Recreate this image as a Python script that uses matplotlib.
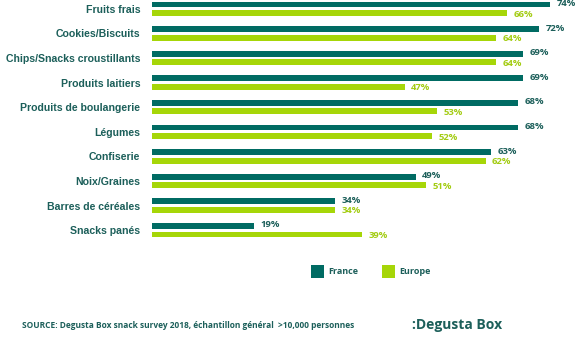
import matplotlib
matplotlib.use('Agg')
import matplotlib.pyplot as plt
import numpy as np

categories = ['Fruits frais', 'Cookies/Biscuits', 'Chips/Snacks croustillants',
              'Produits laitiers', 'Produits de boulangerie', 'Légumes',
              'Confiserie', 'Noix/Graines', 'Barres de céréales', 'Snacks panés']
france = [74, 72, 69, 69, 68, 68, 63, 49, 34, 19]
europe = [66, 64, 64, 47, 53, 52, 62, 51, 34, 39]
series_names = ['France', 'Europe']

teal = '#006b63'
lime = '#a6d608'
text_teal = '#1c5f5a'

fig = plt.figure(figsize=(5.85, 3.4), dpi=100)
ax = fig.add_axes([152 / 585, 1 - 245 / 340, 433 / 585, 245 / 340])

y = np.arange(len(categories))
off = 0.173
h = 0.24
b1 = ax.barh(y - off, france, height=h, color=teal, label=series_names[0])
b2 = ax.barh(y + off, europe, height=h, color=lime, label=series_names[1])

lbl = dict(fontsize=6.8, fontweight='bold', fontstretch='normal', family='Open Sans',
           ha='left')
for yi, v in zip(y, france):
    ax.text(v + 1.2, yi - off - 0.04, f'{v}%', va='center', color=text_teal, **lbl)
for yi, v in zip(y, europe):
    ax.text(v + 1.2, yi + off + 0.04, f'{v}%', va='center', color='#a3cc12', **lbl)

ax.set_xlim(0, 433 / 5.38)
ax.set_ylim(9.60, -0.356)
ax.set_yticks(y)
ax.set_yticklabels(categories, fontsize=7.6, fontweight='bold', color=text_teal,
                   family='Liberation Sans')
ax.tick_params(axis='y', length=0, pad=8.5)
ax.set_xticks([])
for s in ax.spines.values():
    s.set_visible(False)

fig.legend(handles=[b1, b2], labels=series_names, ncol=2, loc='center',
           bbox_to_anchor=(371 / 585, 1 - 271.5 / 340), frameon=False,
           prop={'family': 'Open Sans', 'weight': 'bold', 'stretch': 'normal',
                 'size': 6.5},
           labelcolor=text_teal, handlelength=1.45, handleheight=1.7,
           handletextpad=0.5, columnspacing=2.6)

fig.text(22 / 585, 1 - 325 / 340,
         'SOURCE: Degusta Box snack survey 2018, échantillon général  >10,000 personnes',
         fontsize=6.0, fontweight='bold', fontstretch='normal', color=text_teal,
         family='Open Sans', va='center', ha='left')
fig.text(502 / 585, 1 - 325 / 340, ':Degusta Box', fontsize=10, fontweight='bold',
         fontstretch='normal', color=text_teal, family='Open Sans', va='center',
         ha='right')

fig.savefig('out.png', dpi=100)
